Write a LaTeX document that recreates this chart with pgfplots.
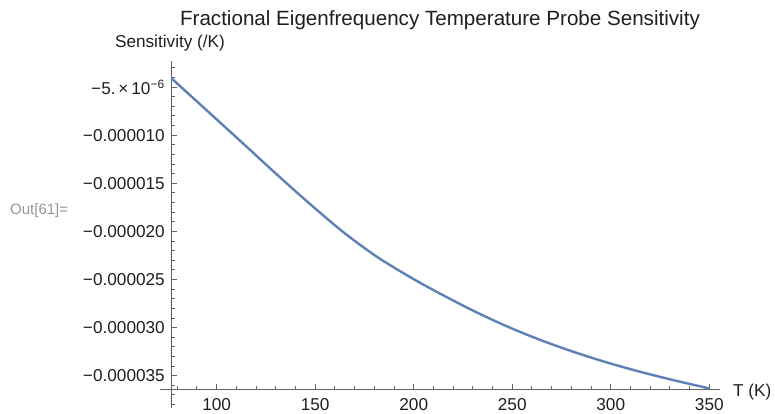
\documentclass[border=0pt]{standalone}
\usepackage{pgfplots}
\pgfplotsset{compat=1.18}
\usepackage{fontspec}
\setmainfont{Liberation Sans}
\definecolor{mblue}{RGB}{94,129,181}
\definecolor{axcol}{RGB}{100,100,100}
\definecolor{outcol}{RGB}{150,150,150}
\newcommand{\lab}{\fontsize{17.2}{20}\selectfont}
\begin{document}
\begin{tikzpicture}
\begin{axis}[
  scale only axis, width=548.62pt, height=328.7pt,
  xmin=77, xmax=355.43, ymin=-36.45e-6, ymax=-2.29e-6,
  axis x line=bottom, axis y line=left,
  axis line style={-, draw=axcol, line width=1pt},
  every outer x axis line/.append style={-},
  every outer y axis line/.append style={-},
  tick style={axcol, line width=1pt},
  tick align=inside,
  major tick length=5.7pt, minor tick length=3.3pt,
  xtick={100,150,200,250,300,350},
  minor xtick={80,90,...,340},
  ytick={-35e-6,-30e-6,-25e-6,-20e-6,-15e-6,-10e-6,-5e-6},
  yticklabels={−0.000035,−0.000030,−0.000025,−0.000020,−0.000015,−0.000010,{−5.\,×\,10\textsuperscript{−6}}},
  minor ytick={-36e-6,-34e-6,-33e-6,-32e-6,-31e-6,-29e-6,-28e-6,-27e-6,-26e-6,-24e-6,-23e-6,-22e-6,-21e-6,-19e-6,-18e-6,-17e-6,-16e-6,-14e-6,-13e-6,-12e-6,-11e-6,-9e-6,-8e-6,-7e-6,-6e-6,-4e-6,-3e-6},
  scaled y ticks=false, scaled x ticks=false,
  /pgf/number format/assume math mode=true,
  xticklabel style={font=\lab, anchor=north, inner sep=0pt, yshift=-8.6pt, text=black!88},
  yticklabel style={font=\lab, anchor=east, inner sep=0pt, xshift=-6.4pt, text=black!88},
  clip=false,
]
\addplot[mblue, line width=2.4pt, smooth] coordinates {
(77,-4.08e-6) (96.6,-7.73e-6) (113.5,-10.88e-6) (130.5,-14.08e-6)
(147.4,-17.16e-6) (164.3,-20.08e-6) (181.2,-22.62e-6) (198.1,-24.74e-6)
(213.3,-26.46e-6) (230.2,-28.24e-6) (247.2,-29.86e-6) (264.1,-31.27e-6)
(281.0,-32.51e-6) (297.9,-33.61e-6) (314.9,-34.59e-6) (331.7,-35.45e-6)
(350,-36.32e-6)
};
% axis line extensions beyond the crossing point
\draw[axcol, line width=1pt] (axis cs:71.22,-36.45e-6) -- (axis cs:77,-36.45e-6);
\draw[axcol, line width=1pt] (axis cs:77,-36.45e-6) -- (axis cs:77,-38.35e-6);
\draw[axcol, line width=1pt] (axis cs:77,-37e-6) -- ++(3.3pt,0pt);
\draw[axcol, line width=1pt] (axis cs:77,-38e-6) -- ++(3.3pt,0pt);
% texts
\node[anchor=base, inner sep=0pt, font=\fontsize{20.6}{24}\selectfont, text=black!88] at (rel axis cs:0.4896,1.1065) {Fractional Eigenfrequency Temperature Probe Sensitivity};
\node[anchor=base, inner sep=0pt, font=\lab, text=black!88] at (rel axis cs:-0.0025,1.0411) {Sensitivity (/K)};
\node[anchor=base west, inner sep=0pt, font=\lab, text=black!88] at (rel axis cs:1.0237,-0.0213) {T (K)};
\node[anchor=base west, inner sep=0pt, font=\fontsize{15}{18}\selectfont, text=outcol] at (rel axis cs:-0.2942,0.5345) {Out[61]=};
\coordinate (bbA) at (rel axis cs:-0.31238,1.18558);
\coordinate (bbB) at (rel axis cs:1.10025,-0.070886);
\end{axis}
\pgfresetboundingbox
\path (bbA) rectangle (bbB);
\end{tikzpicture}
\end{document}
